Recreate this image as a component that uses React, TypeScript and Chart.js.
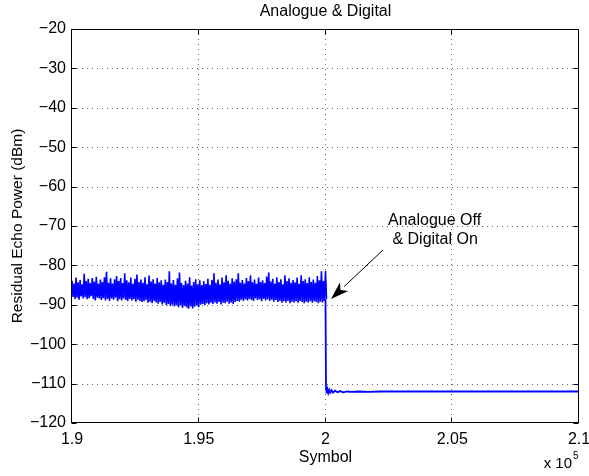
import React, { useEffect, useRef } from "react";
import { Chart, registerables } from "chart.js";

Chart.register(...registerables);

// ---- data ----
const xTickValues = [190000, 195000, 200000, 205000, 210000];
const yTickValues = [-120, -110, -100, -90, -80, -70, -60, -50, -40, -30, -20];

// analogue period: residual echo samples (dBm), sampled every 40 symbols from 1.9e5
const analogueStart = 190000;
const analogueStep = 40;
const analogueEcho = [
  -83.9, -88.0, -84.6, -88.5, -83.1, -88.2, -84.3, -88.7, -83.7, -87.9,
  -84.8, -88.4, -82.1, -88.1, -84.0, -88.6, -83.4, -88.3, -84.5, -87.8,
  -83.2, -88.5, -84.1, -88.9, -82.9, -88.2, -84.7, -88.4, -83.6, -88.8,
  -84.2, -88.3, -83.0, -88.9, -81.6, -88.5, -84.4, -89.0, -83.3, -88.4,
  -84.6, -88.7, -83.5, -88.2, -82.7, -89.1, -84.0, -88.6, -83.2, -88.9,
  -84.5, -88.4, -82.0, -88.8, -83.8, -89.0, -84.3, -88.5, -83.1, -88.9,
  -84.7, -88.6, -83.4, -89.2, -82.3, -88.7, -84.2, -89.0, -83.6, -89.3,
  -84.4, -89.1, -83.0, -88.8, -84.8, -89.5, -82.6, -89.2, -84.1, -89.6,
  -83.5, -89.0, -84.6, -89.4, -83.2, -89.7, -84.3, -89.3, -83.8, -89.9,
  -84.9, -89.5, -83.6, -90.1, -84.2, -89.8, -81.5, -90.3, -84.6, -90.0,
  -83.7, -90.4, -84.9, -90.1, -83.3, -90.6, -81.8, -90.2, -84.5, -90.8,
  -85.0, -90.3, -83.9, -90.7, -84.6, -91.0, -83.0, -90.4, -85.1, -90.9,
  -84.2, -90.5, -83.5, -90.2, -84.8, -90.6, -83.8, -90.0, -85.0, -89.8,
  -84.0, -90.1, -84.7, -89.6, -83.4, -89.9, -84.9, -89.5, -83.7, -89.8,
  -82.0, -89.4, -84.4, -89.7, -83.6, -89.3, -84.8, -89.9, -83.1, -89.5,
  -84.3, -89.6, -82.5, -89.2, -83.9, -89.7, -84.6, -89.4, -83.3, -89.8,
  -84.1, -89.3, -83.5, -89.0, -82.0, -89.2, -84.4, -88.7, -83.7, -89.0,
  -84.6, -88.6, -83.2, -88.9, -84.0, -88.5, -82.5, -88.8, -84.3, -89.0,
  -83.6, -88.4, -84.7, -88.8, -83.1, -88.6, -84.2, -89.1, -83.8, -88.5,
  -84.5, -88.9, -82.8, -88.6, -81.8, -89.0, -84.1, -88.7, -83.4, -89.2,
  -84.6, -88.8, -83.0, -89.3, -84.2, -89.0, -83.5, -89.5, -84.8, -89.1,
  -82.5, -89.4, -84.0, -89.0, -83.3, -89.6, -84.4, -89.2, -83.7, -89.4,
  -84.3, -89.1, -83.1, -89.5, -84.7, -89.0, -82.5, -89.3, -84.0, -89.6,
  -83.5, -89.2, -84.5, -89.4, -83.0, -89.0, -84.2, -89.5, -83.6, -89.1,
  -84.4, -89.3, -82.7, -89.6, -83.8, -89.2, -81.5, -89.4, -84.0, -89.0,
  -81.4, -88.5,
];

// digital period
const digitalSymbols = [
  200000, 200020, 200050, 200080, 200110, 200150, 200190, 200240, 200300, 200380,
  200470, 200580, 200700, 200850, 201000, 201300, 201700, 202200, 203000, 205000,
  207500, 210000,
];
const digitalEcho = [
  -88.5, -111.2, -112.5, -111.5, -112.4, -111.6, -112.3, -111.7, -112.3, -111.8,
  -112.2, -111.9, -112.2, -112.0, -112.1, -112.0, -112.1, -112.0, -112.0, -112.0,
  -112.0, -112.0,
];

// annotation (data coordinates)
const noteLines = ["Analogue Off", " & Digital On"];
const noteAnchor = { x: 202465, y: -68.7 };
const arrowFrom = { x: 202268, y: -76.1 };
const arrowTo = { x: 200217, y: -88.5 };

const FONT = "'Liberation Sans', Arial, Helvetica, sans-serif";
const FS = 16;

const matlabPlugin = {
  id: "matlabDecor",
  beforeDatasetsDraw(chart: any) {
    const { ctx, chartArea: a, scales } = chart;
    ctx.save();
    ctx.strokeStyle = "rgba(0,0,0,0.6)";
    ctx.lineWidth = 1;
    ctx.setLineDash([1, 4]);
    for (const v of xTickValues) {
      const px = Math.round(scales.x.getPixelForValue(v)) - 0.5;
      if (px < a.left + 2 || px > a.right - 2) continue;
      ctx.beginPath();
      ctx.moveTo(px, a.top);
      ctx.lineTo(px, a.bottom);
      ctx.stroke();
    }
    for (const v of yTickValues) {
      const py = Math.round(scales.y.getPixelForValue(v)) + 0.5;
      if (py < a.top + 2 || py > a.bottom - 2) continue;
      ctx.beginPath();
      ctx.moveTo(a.left, py);
      ctx.lineTo(a.right, py);
      ctx.stroke();
    }
    ctx.restore();
  },
  afterDatasetsDraw(chart: any) {
    const { ctx, chartArea: a, scales } = chart;
    const L = a.left - 0.5, R = a.right - 0.5, T = a.top + 0.5, B = a.bottom - 0.5;
    ctx.save();
    ctx.setLineDash([]);
    ctx.strokeStyle = "#000";
    ctx.lineWidth = 1;
    ctx.strokeRect(L, T, R - L, B - T);
    const tl = 5;
    ctx.beginPath();
    for (const v of xTickValues) {
      const px = Math.round(scales.x.getPixelForValue(v)) - 0.5;
      ctx.moveTo(px, B);
      ctx.lineTo(px, B - tl);
      ctx.moveTo(px, T);
      ctx.lineTo(px, T + tl);
    }
    for (const v of yTickValues) {
      const py = Math.round(scales.y.getPixelForValue(v)) + 0.5;
      ctx.moveTo(L, py);
      ctx.lineTo(L + tl, py);
      ctx.moveTo(R, py);
      ctx.lineTo(R - tl, py);
    }
    ctx.stroke();

    // arrow
    const x0 = scales.x.getPixelForValue(arrowFrom.x);
    const y0 = scales.y.getPixelForValue(arrowFrom.y);
    const x1 = scales.x.getPixelForValue(arrowTo.x);
    const y1 = scales.y.getPixelForValue(arrowTo.y);
    const ang = Math.atan2(y1 - y0, x1 - x0);
    const hl = 18, hw = 6;
    const bx = x1 - hl * Math.cos(ang), by = y1 - hl * Math.sin(ang);
    ctx.beginPath();
    ctx.moveTo(x0, y0);
    ctx.lineTo(bx, by);
    ctx.stroke();
    const nx = -Math.sin(ang), ny = Math.cos(ang);
    const notch = 5;
    ctx.fillStyle = "#000";
    ctx.beginPath();
    ctx.moveTo(x1, y1);
    ctx.lineTo(bx + nx * hw, by + ny * hw);
    ctx.lineTo(bx + notch * Math.cos(ang), by + notch * Math.sin(ang));
    ctx.lineTo(bx - nx * hw, by - ny * hw);
    ctx.closePath();
    ctx.fill();

    // texts
    ctx.fillStyle = "#000";
    ctx.font = `${FS}px ${FONT}`;
    ctx.textBaseline = "middle";
    ctx.textAlign = "left";
    const tx = scales.x.getPixelForValue(noteAnchor.x);
    const ty = scales.y.getPixelForValue(noteAnchor.y);
    noteLines.forEach((s, i) => ctx.fillText(s, tx, ty + i * 19));

    ctx.textAlign = "center";
    const cx = (a.left + a.right) / 2;
    ctx.fillText("Analogue & Digital", cx, 12);
    ctx.fillText("Symbol", cx, 458);

    ctx.save();
    ctx.font = `15.5px ${FONT}`;
    ctx.translate(18, (a.top + a.bottom) / 2);
    ctx.rotate(-Math.PI / 2);
    ctx.fillText("Residual Echo Power (dBm)", 0, 0);
    ctx.restore();

    ctx.font = `15px ${FONT}`;
    ctx.textAlign = "right";
    ctx.fillText("x 10", a.right - 7, 464);
    ctx.textAlign = "left";
    ctx.font = `10px ${FONT}`;
    ctx.fillText("5", a.right - 6, 456);
    ctx.restore();
  },
};

export default function App() {
  const ref = useRef<HTMLCanvasElement | null>(null);
  useEffect(() => {
    document.body.style.margin = "0";
    const analoguePts = analogueEcho.map((y, i) => ({ x: analogueStart + i * analogueStep, y }));
    const digitalPts = digitalSymbols.map((x, i) => ({ x, y: digitalEcho[i] }));
    const chart = new Chart(ref.current as HTMLCanvasElement, {
      type: "line",
      data: {
        datasets: [
          { data: analoguePts, borderColor: "#0000ff", borderWidth: 1.6, pointRadius: 0, tension: 0 },
          { data: digitalPts, borderColor: "#0000ff", borderWidth: 1.8, pointRadius: 0, tension: 0 },
        ],
      },
      options: {
        animation: false,
        responsive: false,
        layout: { padding: { top: 29, right: 10, left: 0, bottom: 0 } },
        plugins: { legend: { display: false }, title: { display: false }, tooltip: { enabled: false } },
        scales: {
          x: {
            type: "linear",
            min: 190000,
            max: 210000,
            afterFit: (s: any) => {
              s.height = 53;
              s.paddingLeft = 0;
              s.paddingRight = 0;
            },
            afterBuildTicks: (s: any) => { s.ticks = xTickValues.map((v) => ({ value: v })); },
            grid: { display: false, drawTicks: false },
            border: { display: false },
            ticks: {
              padding: 7,
              maxRotation: 0,
              autoSkip: false,
              color: "#000",
              font: { family: FONT, size: FS },
              callback: (v: any) => String(Math.round((Number(v) / 1e5) * 100) / 100),
            },
          },
          y: {
            type: "linear",
            min: -120,
            max: -20,
            afterFit: (s: any) => {
              s.width = 72;
              s.paddingTop = 0;
              s.paddingBottom = 0;
            },
            afterBuildTicks: (s: any) => { s.ticks = yTickValues.map((v) => ({ value: v })); },
            grid: { display: false, drawTicks: false },
            border: { display: false },
            ticks: {
              padding: 6,
              autoSkip: false,
              color: "#000",
              font: { family: FONT, size: FS },
              callback: (v: any) => String(v).replace("-", "\u2212"),
            },
          },
        },
      },
      plugins: [matlabPlugin],
    });
    return () => chart.destroy();
  }, []);
  return <canvas ref={ref} width={589} height={476} style={{ display: "block", width: 589, height: 476 }} />;
}
